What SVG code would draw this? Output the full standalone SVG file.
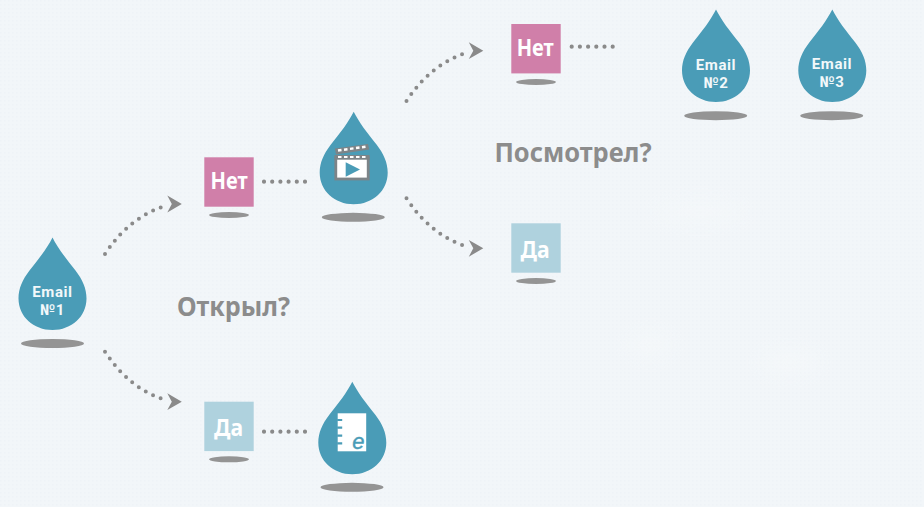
<svg xmlns="http://www.w3.org/2000/svg" width="924" height="507" viewBox="0 0 924 507">
<style>
text{font-family:"Noto Sans","Open Sans","DejaVu Sans",sans-serif;text-anchor:middle}
.drop{fill:#4a9cb7}
.sh{fill:#949494}
.em{fill:#f2f8fa;font-family:Roboto,"Noto Sans",sans-serif;font-size:15px;font-weight:700;letter-spacing:.6px}
.box{font-size:23px;font-weight:700;fill:#fff}
.no{fill:#d07fa9}
.yes{fill:#afd2de}
.q{font-size:26px;font-weight:700;fill:#8c8c8c}
.dots{fill:none;stroke:#8a8a8a;stroke-linecap:round;stroke-dasharray:0 8.2}
.s{stroke-width:4.200}
.c{stroke-width:4}
.ah{fill:#8a8a8a}
</style>
<defs>
<path id="d" d="M0 0C5 10 14 22 23 33C30 42 34 51 34 61C34 79 19 92.500 0 92.500C-19 92.500-34 79-34 61C-34 51-30 42-23 33C-14 22-5 10 0 0Z"/>
<pattern id="grid" width="4" height="4" patternUnits="userSpaceOnUse"><rect width="1.500" height="1.500" fill="#e9eff4"/></pattern>
<filter id="b" x="-50%" y="-50%" width="200%" height="200%"><feGaussianBlur stdDeviation="10"/></filter>
<path id="ar" d="M14.500 0L0-8.400L4.500 0L0 8.400Z"/>
</defs>
<rect id="background" width="924" height="507" fill="#f2f6f9"/>
<rect width="924" height="507" fill="url(#grid)" opacity=".5"/>
<g filter="url(#b)" fill="#f7fafb" opacity=".6">
<ellipse cx="700" cy="212" rx="45" ry="8"/>
<ellipse cx="650" cy="345" rx="22" ry="10"/>
<ellipse cx="790" cy="362" rx="30" ry="10"/>
</g>
<g id="connectors">
<path class="dots c" d="M105 254Q130 216 168 205"/>
<path class="dots c" d="M105 351.700Q130 390 168 400.700"/>
<path class="dots c" d="M406.500 101Q431.500 63 469.500 51.700"/>
<path class="dots c" d="M406.500 198.300Q431.500 236.500 469.500 247.500"/>
<path class="dots s" d="M264 181.700H307"/>
<path class="dots s" d="M264 431.700H307"/>
<path class="dots s" d="M571.700 46.700H615"/>
<use href="#ar" class="ah" x="167.300" y="204"/>
<use href="#ar" class="ah" x="167.300" y="401.700"/>
<use href="#ar" class="ah" x="468.800" y="50.700"/>
<use href="#ar" class="ah" x="468.800" y="248.300"/>
</g>
<g id="email1">
<ellipse class="sh" cx="52.500" cy="343.500" rx="31.500" ry="4.500"/>
<use href="#d" class="drop" x="52.500" y="237.500"/>
<text class="em" x="52.500" y="297.300">Email</text>
<text class="em" x="52.500" y="315">№1</text>
</g>
<g id="no1">
<rect class="no" x="204.300" y="157.300" width="49.400" height="49.400"/>
<ellipse class="sh" cx="229" cy="215" rx="20" ry="3"/>
<text class="box" x="229" y="189.300" textLength="37" lengthAdjust="spacingAndGlyphs">Нет</text>
</g>
<g id="yes1">
<rect class="yes" x="204.300" y="401.700" width="49.400" height="49.400"/>
<ellipse class="sh" cx="229" cy="459.300" rx="20" ry="3"/>
<text class="box" x="228.500" y="435.700" textLength="29" lengthAdjust="spacingAndGlyphs">Да</text>
</g>
<g id="video">
<ellipse class="sh" cx="353.300" cy="217.300" rx="31.500" ry="4.500"/>
<use href="#d" class="drop" x="353.700" y="111.700"/>
<path d="M334.800 148.500L368 144L369.300 149.500L336 154.500Z" fill="#7d8488"/>
<path d="M338 150.500L341.500 150M344 149.700L347.500 149.200M350 148.900L353.500 148.400M356 148L359.500 147.500M362 147.200L365.500 146.700" stroke="#fff" stroke-width="2.400"/>
<rect x="335.800" y="158" width="32.400" height="21" fill="#fff" stroke="#7d8488" stroke-width="2.800"/>
<rect x="334.500" y="155" width="35" height="4.500" fill="#7d8488"/>
<path d="M338 157h3.500M344 157h3.500M350 157h3.500M356 157h3.500M362 157h3.500" stroke="#fff" stroke-width="2.200"/>
<path d="M345.700 162.300L360 169.500L345.700 176.700Z" fill="#4a9cb7"/>
</g>
<g id="ebook">
<ellipse class="sh" cx="352" cy="487.300" rx="31.500" ry="4.500"/>
<use href="#d" class="drop" x="352.300" y="381.700"/>
<rect x="337.700" y="413.300" width="28.500" height="38" fill="#fff"/>
<path d="M337.200 420h5M337.200 427.700h5M337.200 435.700h5M337.200 443.300h5" stroke="#4a9cb7" stroke-width="2.200"/>
<text x="358.300" y="448.500" font-size="22" font-style="italic" fill="#4a9cb7" stroke="#4a9cb7" stroke-width=".4" style='font-family:"Liberation Sans",sans-serif'>e</text>
</g>
<g id="no2">
<rect class="no" x="511.300" y="24" width="49.400" height="49.400"/>
<ellipse class="sh" cx="536" cy="82" rx="20" ry="3"/>
<text class="box" x="535.200" y="55.700" textLength="37" lengthAdjust="spacingAndGlyphs">Нет</text>
</g>
<g id="yes2">
<rect class="yes" x="511.300" y="223.300" width="49.400" height="49.400"/>
<ellipse class="sh" cx="536" cy="281" rx="20" ry="3"/>
<text class="box" x="535" y="257.700" textLength="29" lengthAdjust="spacingAndGlyphs">Да</text>
</g>
<g id="email2">
<ellipse class="sh" cx="715.700" cy="115.700" rx="31.500" ry="4.500"/>
<use href="#d" class="drop" x="716" y="9.500"/>
<text class="em" x="716" y="70">Email</text>
<text class="em" x="716" y="87.700">№2</text>
</g>
<g id="email3">
<ellipse class="sh" cx="831.700" cy="115.700" rx="31.500" ry="4.500"/>
<use href="#d" class="drop" x="832.300" y="9.500"/>
<text class="em" x="832" y="68.500">Email</text>
<text class="em" x="832" y="86.700">№3</text>
</g>
<text id="q1" class="q" x="233.500" y="316" textLength="113" lengthAdjust="spacingAndGlyphs">Открыл?</text>
<text id="q2" class="q" x="573" y="161.700" textLength="157" lengthAdjust="spacingAndGlyphs">Посмотрел?</text>
</svg>
